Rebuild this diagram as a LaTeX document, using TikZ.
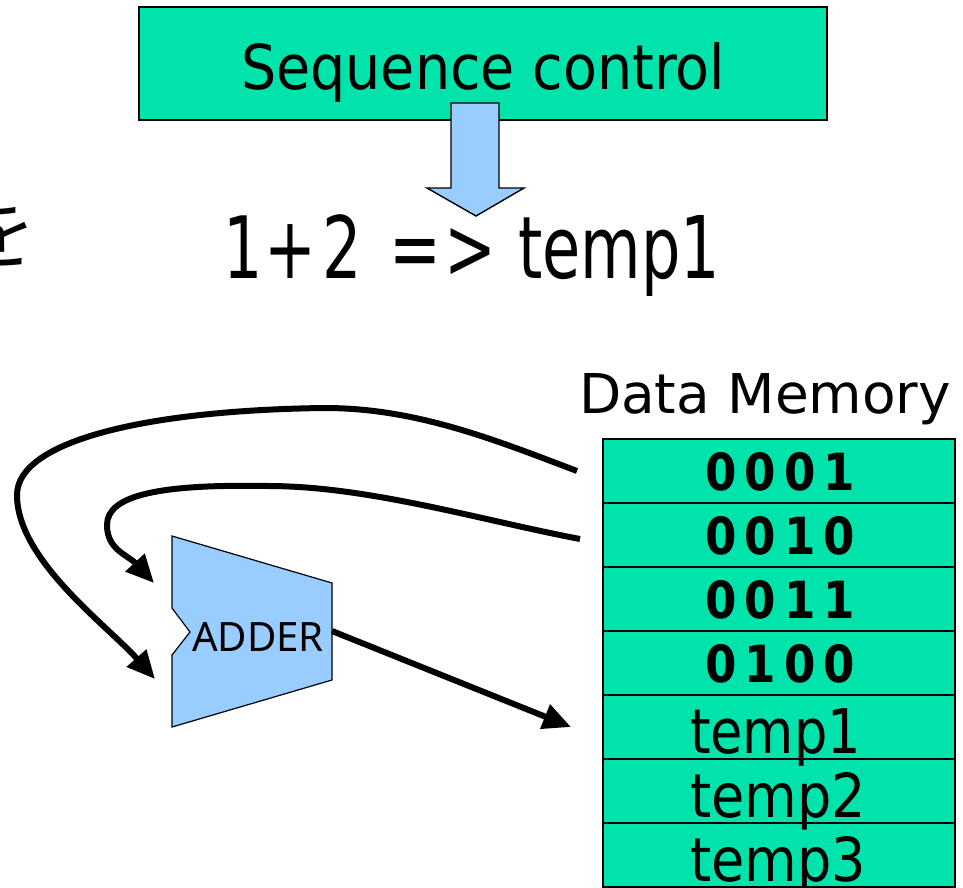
\documentclass[tikz,border=0pt]{standalone}
\usepackage{fontspec}
\usepackage{graphicx}
\setmainfont{DejaVu Sans}
\newfontfamily\adderfnt{Noto Sans}
\newfontfamily\cjkfnt{Noto Sans CJK JP}
\usetikzlibrary{arrows.meta,calc}
\definecolor{memgreen}{RGB}{0,227,170}
\definecolor{lblue}{RGB}{153,204,255}
\newcommand\fitto[3]{\resizebox{#1pt}{#2pt}{\fontsize{40}{48}\selectfont #3}}
\newcommand\exprch[1]{\scalebox{0.72}[1]{\fontsize{86}{90}\selectfont #1}}
\newcommand\dg[4]{\bfseries #1\hspace{.18em}#2\hspace{.18em}#3\hspace{.18em}#4}
\begin{document}
\begin{tikzpicture}[x=1pt,y=-1pt,
  cell/.style={draw=black, line width=1.6pt, fill=memgreen, minimum width=352pt, minimum height=64pt, inner sep=0pt, outer sep=0pt},
  txt/.style={anchor=base west, inner sep=0pt, outer sep=0pt},
  ctxt/.style={anchor=base, inner sep=0pt, outer sep=0pt},
  conn/.style={line width=6pt, -{Triangle[length=28pt,width=25pt]}},
  blockfill/.style={draw=black, line width=1.4pt, fill=lblue, line join=miter}]
\useasboundingbox (0,0) rectangle (963,888);
\fill[white] (0,0) rectangle (963,888);

% partial character at the left edge
\node[txt] (cut) at (-41,262) {\cjkfnt\fontsize{78}{80}\selectfont を};

% sequence control
\node[draw=black, line width=1.8pt, fill=memgreen, minimum width=688pt, minimum height=113pt, inner sep=0pt] (seq) at (483,63.5) {};
\node[txt] (seqtxt) at (241,90) {\fitto{484}{47}{Sequence control}};

% block arrow
\draw[blockfill] (451,103) -- (499,103) -- (499,188) -- (524,188) -- (476,216) -- (427,188) -- (451,188) -- cycle;

% expression
\node[ctxt] (e1) at (243,278) {\exprch{1}};
\node[ctxt] (e2) at (290,278) {\exprch{+}};
\node[ctxt] (e3) at (342,278) {\exprch{2}};
\node[ctxt] (e4) at (415,278) {\exprch{=}};
\node[ctxt] (e5) at (470,278) {\exprch{>}};
\node[txt] (e6) at (518,278) {\fitto{202}{63}{temp1}};

% data memory
\node[txt] (dmtitle) at (579,413) {\fitto{372}{40}{Data Memory}};
\foreach \i in {1,...,7} {
  \node[cell] (m\i) at (779,{471+64*(\i-1)}) {};
}
\node[txt] (v1) at (705,490) {\fitto{150}{38}{\dg0001}};
\node[txt] (v2) at (705,554) {\fitto{150}{38}{\dg0010}};
\node[txt] (v3) at (705,618) {\fitto{150}{38}{\dg0011}};
\node[txt] (v4) at (705,682) {\fitto{150}{38}{\dg0100}};
\node[txt] (v5) at (690,753) {\fitto{171}{45}{temp1}};
\node[txt] (v6) at (690,817) {\fitto{176}{45}{temp2}};
\node[txt] (v7) at (690,881) {\fitto{176}{45}{temp3}};

% adder
\draw[blockfill, line width=1.2pt] (172,536) -- (332,583) -- (332,680) -- (172,727) -- (172,655) -- (190,632) -- (172,608) -- cycle;
\node[txt] (addertxt) at (192,651) {\resizebox{132pt}{29pt}{\adderfnt\fontsize{40}{48}\selectfont ADDER}};
\coordinate (addout) at (332,631);
\coordinate (in1) at (154,583);
\coordinate (in2) at (155,679);

% connectors
\coordinate (s1) at ($(m1.west)+(-26,0)$);
\coordinate (s2) at ($(m2.west)+(-23,4)$);
\draw[conn] (s1) .. controls (493,439) and (415,408) .. (325,408)
  .. controls (150,410) and (17,440) .. (17,495)
  .. controls (17,560) and (108,626) .. (in2);
\draw[conn] (s2) .. controls (480,520) and (368,486) .. (268,486)
  .. controls (160,484) and (107,495) .. (107,525)
  .. controls (107,550) and (128,555) .. (in1);
\draw[conn] (addout) -- ($(m5.west)+(-32,0)$);
\end{tikzpicture}
\end{document}
